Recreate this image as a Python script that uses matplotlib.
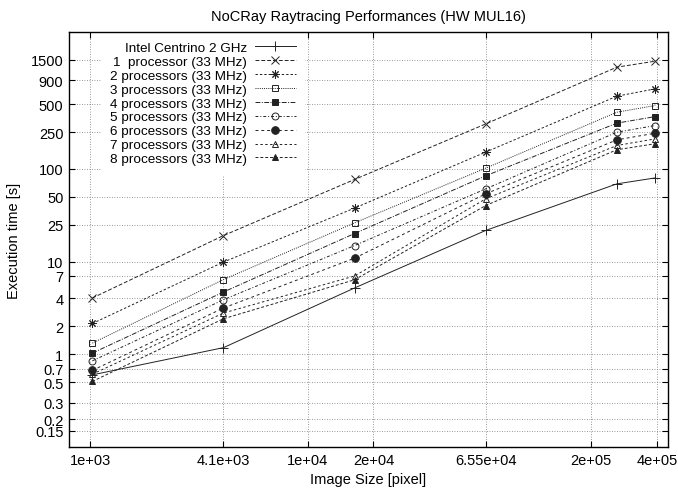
import matplotlib
matplotlib.use("Agg")
import matplotlib.pyplot as plt

plt.rcParams["font.family"] = ["Liberation Sans", "DejaVu Sans"]
plt.rcParams["font.size"] = 10.5

# image sizes in pixels
sizes = [1024, 4096, 16384, 65536, 262144, 393216]

intel = [0.60, 1.18, 5.2, 21.7, 69, 80]
p1 = [4.05, 19.1, 77, 306, 1253, 1453]
p2 = [2.15, 9.9, 37.8, 152, 609, 731]
p3 = [1.32, 6.4, 26.2, 102, 409, 483]
p4 = [1.03, 4.7, 20.1, 84.3, 312, 367]
p5 = [0.85, 3.88, 14.9, 61, 249, 294]
p6 = [0.67, 3.16, 10.9, 53.9, 206, 243]
p7 = [0.61, 2.79, 7.0, 47.6, 179, 211]
p8 = [0.51, 2.42, 6.37, 40.3, 161, 187]

labels = ["Intel Centrino 2 GHz", "1  processor (33 MHz)",
          "2 processors (33 MHz)", "3 processors (33 MHz)",
          "4 processors (33 MHz)", "5 processors (33 MHz)",
          "6 processors (33 MHz)", "7 processors (33 MHz)",
          "8 processors (33 MHz)"]

xticks = [1000, 4096, 10000, 20000, 65536, 200000, 400000]
xticklabels = ["1e+03", "4.1e+03", "1e+04", "2e+04", "6.55e+04", "2e+05", "4e+05"]
yticks = [0.15, 0.2, 0.3, 0.5, 0.7, 1, 2, 4, 7, 10, 25, 50, 100, 250, 500, 900, 1500]
yticklabels = ["0.15", "0.2", "0.3", "0.5", "0.7", "1", "2", "4", "7", "10",
               "25", "50", "100", "250", "500", "900", "1500"]

series = [intel, p1, p2, p3, p4, p5, p6, p7, p8]
styles = [
    dict(marker="+", ls="-", ms=7),
    dict(marker="x", dashes=(4, 2), ms=5.5),
    dict(marker=(8, 2, 0), dashes=(2.5, 2), ms=6),
    dict(marker="s", mfc="none", dashes=(1, 1.2), ms=5),
    dict(marker="s", dashes=(5, 1.5, 1, 1.5), ms=5),
    dict(marker="o", mfc="none", dashes=(3, 2, 1, 2), ms=5),
    dict(marker="o", dashes=(3, 3), ms=5.5),
    dict(marker="^", mfc="none", dashes=(2.5, 2.5), ms=5),
    dict(marker="^", dashes=(3, 2), ms=5),
]

fig = plt.figure(figsize=(6.78, 4.89), dpi=100)
ax = fig.add_axes([69 / 678, 1 - 448 / 489, 599 / 678, 415 / 489])

for vals, lab, st in zip(series, labels, styles):
    ax.plot(sizes, vals, color="#222222", lw=0.7, mew=0.7, label=lab, **st)

ax.set_xscale("log")
ax.set_yscale("log")
ax.set_xlim(800, 450000)
ax.set_ylim(0.1, 3000)
ax.set_xticks(xticks)
ax.set_xticklabels(xticklabels)
ax.set_yticks(yticks)
ax.set_yticklabels(yticklabels)
ax.minorticks_off()
ax.tick_params(direction="in", top=True, right=True, length=4.5, width=0.8, pad=4)
ax.grid(True, color="#777777", lw=0.6, dashes=(1, 2))
ax.set_axisbelow(True)
for s in ax.spines.values():
    s.set_linewidth(1.0)

ax.set_title("NoCRay Raytracing Performances (HW MUL16)", fontsize=10.5, pad=9)
ax.set_xlabel("Image Size [pixel]", labelpad=4)
ax.set_ylabel("Execution time [s]", labelpad=7)

leg = ax.legend(loc="upper right", bbox_to_anchor=(0.394, 1.0), fontsize=9.7,
                markerfirst=False, frameon=True, fancybox=False,
                edgecolor="none", facecolor="white", framealpha=1,
                borderaxespad=0, borderpad=0.7, labelspacing=0.11,
                handlelength=3.0, handletextpad=0.6)
leg.set_zorder(1)
for col in leg._legend_handle_box.get_children():
    col.align = "right"

fig.savefig("out.png", dpi=100)
